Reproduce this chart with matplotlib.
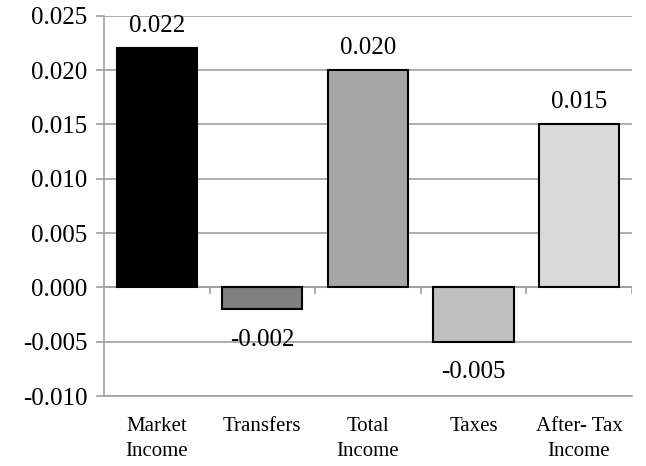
import matplotlib
matplotlib.use("Agg")
import matplotlib.pyplot as plt

plt.rcParams['font.family'] = ['Liberation Serif', 'DejaVu Serif']

categories = ['Market\nIncome', 'Transfers', 'Total\nIncome', 'Taxes', 'After- Tax\nIncome']
values = [0.022, -0.002, 0.020, -0.005, 0.015]
labels = ['0.022', '-0.002', '0.020', '-0.005', '0.015']
colors = ['#000000', '#808080', '#a6a6a6', '#bfbfbf', '#d9d9d9']
yticks = [-0.010, -0.005, 0.000, 0.005, 0.010, 0.015, 0.020, 0.025]

grid_c = '#a0a0a0'

fig = plt.figure(figsize=(6.46, 4.66), dpi=100)
ax = fig.add_axes([0.161, 0.150, 0.817, 0.816])

x = list(range(len(values)))
ax.bar(x, values, width=0.76, color=colors, edgecolor='black', linewidth=1.5, zorder=3)

ax.set_xlim(-0.5, len(values) - 0.5)
ax.set_ylim(-0.010, 0.025)
ax.set_yticks(yticks)
ax.set_yticklabels(['%.3f' % v for v in yticks], fontsize=18)
ax.yaxis.grid(True, color=grid_c, linewidth=1.2, zorder=0)

ax.set_xticks(x)
ax.set_xticklabels(categories, fontsize=15, linespacing=1.45)
ax.tick_params(axis='x', length=0, pad=15)
ax.tick_params(axis='y', length=6, width=1.2, color=grid_c, pad=6)

for s in ['top', 'right']:
    ax.spines[s].set_visible(False)
for s in ['left', 'bottom']:
    ax.spines[s].set_color(grid_c)
    ax.spines[s].set_linewidth(1.2)

# category axis crossing at zero, with boundary tick marks
ax.axhline(0, color=grid_c, linewidth=1.2, zorder=2)
bounds = [i + 0.5 for i in range(len(values))]
ax.vlines(bounds, -0.0006, 0, color=grid_c, linewidth=1.2, zorder=2)

for xi, v, t in zip(x, values, labels):
    if v >= 0:
        ax.annotate(t, (xi, v), xytext=(0, 8), textcoords='offset points',
                    ha='center', va='bottom', fontsize=18, zorder=4)
    else:
        ax.annotate(t, (xi, v), xytext=(0, -14), textcoords='offset points',
                    ha='center', va='top', fontsize=18, zorder=4)

fig.savefig('out.png', dpi=100)
